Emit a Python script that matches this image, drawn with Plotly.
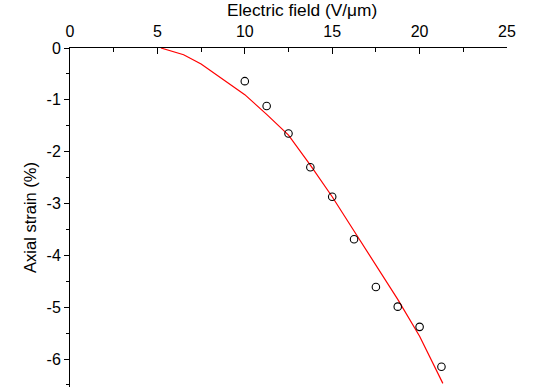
import plotly.graph_objects as go

# measured data points
field_pts = [10.0, 11.25, 12.5, 13.75, 15.0, 16.25, 17.5, 18.75, 20.0, 21.25]
strain_pts = [-0.64, -1.12, -1.65, -2.30, -2.87, -3.69, -4.61, -4.99, -5.38, -6.15]

# fitted curve
field_fit = [5.2, 6.5, 7.5, 8.75, 10.0, 11.25, 12.5, 13.75, 15.0, 16.25, 17.5, 18.75, 20.0, 21.33]
strain_fit = [0.0, -0.13, -0.31, -0.60, -0.90, -1.28, -1.68, -2.26, -2.87, -3.53, -4.19, -4.85, -5.56, -6.47]

x_ticks = [0, 5, 10, 15, 20, 25]
y_ticks = [0, -1, -2, -3, -4, -5, -6]
y_ticktext = ["0", "-1", "-2", "-3", "-4", "-5", "-6"]

x_title = "Electric field (V/μm)"
y_title = "Axial strain (%)"

FONT = "Liberation Sans, Arial, sans-serif"

fig = go.Figure()
fig.add_trace(go.Scatter(x=field_fit, y=strain_fit, mode="lines",
                         line=dict(color="#ff0000", width=1.2), showlegend=False,
                         cliponaxis=True))
fig.add_trace(go.Scatter(x=field_pts, y=strain_pts, mode="markers",
                         marker=dict(symbol="circle-open", size=7.5, color="#000000",
                                     line=dict(width=1.1, color="#000000")),
                         showlegend=False))

fig.add_annotation(text=x_title, xref="paper", yref="paper", x=0.532, y=1.112,
                   xanchor="center", yanchor="middle", showarrow=False,
                   font=dict(family=FONT, size=17.3, color="black"))

fig.update_layout(
    width=535, height=387,
    margin=dict(l=70, r=28, t=48, b=0),
    paper_bgcolor="white", plot_bgcolor="white",
    font=dict(family=FONT, size=16, color="black"),
    xaxis=dict(
        side="top", range=[0, 25], tickvals=x_ticks, automargin=False,
        showline=True, linecolor="black", linewidth=1,
        ticks="inside", ticklen=6, tickwidth=1, tickcolor="black",
        minor=dict(dtick=2.5, ticks="inside", ticklen=4, tickwidth=1, tickcolor="black",
                   showgrid=False),
        showgrid=False, zeroline=False,
        tickfont=dict(family=FONT, size=16),
        ticklabelstandoff=4,
        mirror=False,
    ),
    yaxis=dict(
        range=[-6.54, 0], tickvals=y_ticks, ticktext=y_ticktext, automargin=False,
        showline=True, linecolor="black", linewidth=1,
        ticks="outside", ticklen=5, tickwidth=1, tickcolor="black",
        minor=dict(tickvals=[-0.5, -1.5, -2.5, -3.5, -4.5, -5.5, -6.5], ticks="outside",
                   ticklen=3, tickwidth=1, tickcolor="black", showgrid=False),
        showgrid=False, zeroline=False,
        tickfont=dict(family=FONT, size=16),
        title=dict(text=y_title, font=dict(family=FONT, size=16.5), standoff=5),
    ),
)

fig.write_html("out.html", config={"displayModeBar": False},
               post_script="document.body.style.margin='0px';")
